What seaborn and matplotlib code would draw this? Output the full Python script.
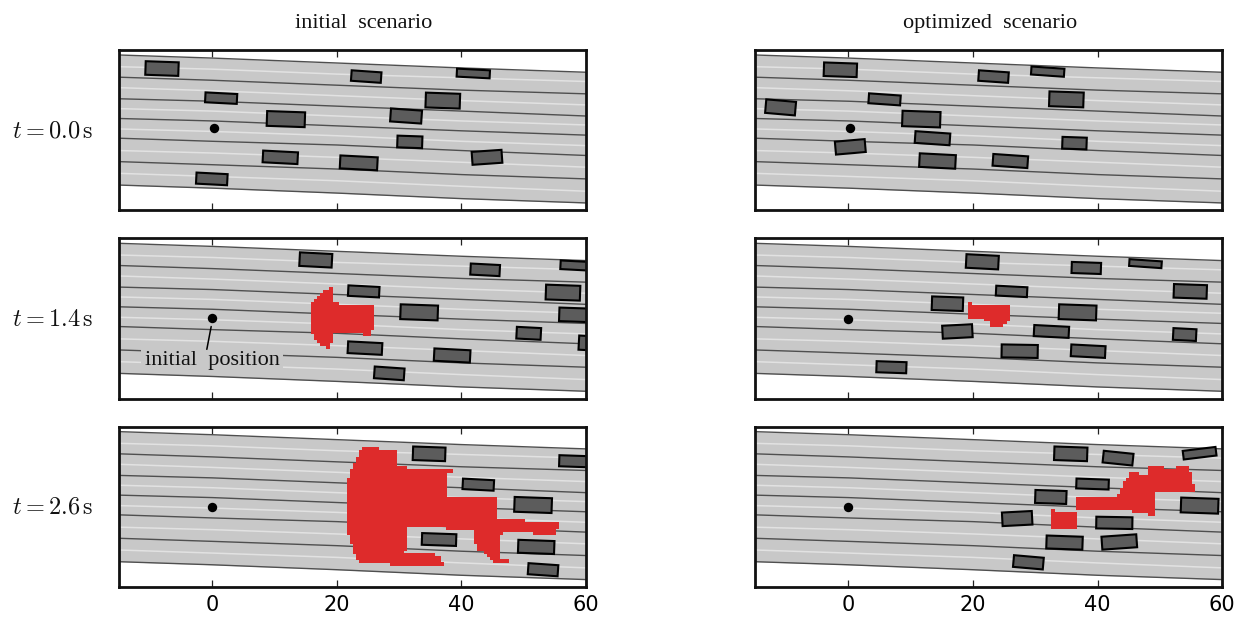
import matplotlib
matplotlib.use("Agg")
import matplotlib.pyplot as plt
import seaborn as sns
from matplotlib.patches import Rectangle

# road geometry (same for all panels)
road_x = [-15, 0, 20, 40, 60]
road_top = [12.2, 11.7, 10.9, 10.1, 9.4]
road_bottom = [-8.9, -9.4, -10.2, -11.1, -11.8]
lane_borders = [
    [8.6, 8.1, 7.3, 6.5, 5.9],
    [5.1, 4.7, 3.9, 3.1, 2.3],
    [1.9, 1.5, 0.7, -0.1, -0.8],
    [-1.3, -1.8, -2.4, -3.3, -4.1],
    [-5.1, -5.6, -6.3, -7.2, -7.9],
]
lane_centers = [
    [10.3, 9.9, 9.1, 8.5, 7.9],
    [6.9, 6.4, 5.6, 4.8, 4.1],
    [3.5, 3.1, 2.3, 1.5, 0.85],
    [0.2, -0.2, -0.9, -1.8, -2.5],
    [-3.3, -3.7, -4.4, -5.2, -6.0],
    [-7.0, -7.5, -8.2, -9.1, -9.9],
]

# cars: x, y, length, width, angle
cars_init_0 = [(-8.1, 10.0, 5.3, 2.2, -2), (24.7, 8.7, 4.8, 1.7, -4), (41.9, 9.2, 5.3, 1.3, -3),
               (1.4, 5.2, 5.1, 1.6, -3), (37.0, 4.8, 5.5, 2.4, -2), (11.8, 1.8, 6.1, 2.4, -2),
               (31.1, 2.3, 5.0, 2.1, -4), (31.7, -1.9, 4.0, 1.9, -2), (10.9, -4.4, 5.6, 1.9, -3),
               (23.5, -5.3, 6.0, 2.1, -3), (44.1, -4.4, 4.8, 2.1, 4), (-0.1, -7.9, 5.0, 1.8, -3)]
cars_init_1 = [(16.6, 9.5, 5.2, 2.2, -3), (43.8, 7.9, 4.7, 1.8, -3), (58.2, 8.6, 4.6, 1.4, -3),
               (24.3, 4.4, 5.0, 1.7, -3), (56.3, 4.2, 5.5, 2.4, -2), (33.2, 1.0, 6.0, 2.4, -2),
               (58.0, 0.6, 4.6, 2.2, -2), (50.8, -2.4, 3.9, 1.9, -3), (60.6, -4.0, 3.5, 2.3, -3),
               (24.5, -4.8, 5.5, 1.9, -3), (38.5, -6.0, 5.8, 2.0, -3), (28.4, -8.9, 4.8, 1.9, -4)]
cars_init_2 = [(34.8, 8.6, 5.2, 2.2, -2), (58.0, 7.4, 4.6, 1.8, -2), (42.7, 3.6, 5.0, 1.7, -3),
               (51.5, 0.3, 6.0, 2.4, -2), (36.4, -5.3, 5.5, 1.9, -2), (52.0, -6.5, 5.8, 2.1, -2),
               (53.1, -10.2, 4.8, 1.8, -4)]
cars_opt_0 = [(-1.3, 9.8, 5.3, 2.2, -2), (23.3, 8.7, 4.8, 1.7, -4), (32.0, 9.5, 5.3, 1.3, -4),
              (5.8, 5.0, 5.1, 1.6, -4), (35.0, 5.0, 5.5, 2.4, -2), (11.7, 1.8, 6.1, 2.5, -2),
              (-10.9, 3.7, 4.8, 2.2, -5), (13.5, -1.3, 5.6, 1.9, -4), (36.3, -2.1, 3.9, 1.9, -2),
              (0.3, -2.7, 4.8, 2.1, 5), (14.3, -5.0, 5.8, 2.2, -3), (26.0, -5.0, 5.6, 1.9, -4)]
cars_opt_1 = [(21.5, 9.2, 5.2, 2.2, -3), (38.2, 8.2, 4.7, 1.8, -2), (47.7, 8.9, 5.2, 1.1, -4),
              (54.9, 4.4, 5.3, 2.2, -2), (26.2, 4.4, 5.0, 1.6, -3), (15.9, 2.4, 5.0, 2.2, -2),
              (36.8, 1.0, 6.0, 2.4, -2), (17.5, -2.1, 4.8, 2.1, 3), (32.6, -2.1, 5.6, 1.8, -3),
              (54.0, -2.6, 3.7, 1.9, -3), (27.5, -5.3, 5.8, 2.1, -1), (38.5, -5.3, 5.5, 1.9, -3),
              (6.9, -7.9, 4.8, 1.8, -2)]
cars_opt_2 = [(35.7, 8.6, 5.3, 2.2, -2), (43.3, 7.9, 4.8, 1.9, -6), (56.4, 8.7, 5.3, 1.4, 7),
              (39.2, 3.7, 5.2, 1.6, -2), (32.5, 1.6, 5.0, 2.1, -2), (56.4, 0.2, 6.0, 2.4, -2),
              (27.1, -1.9, 4.8, 2.2, 3), (42.7, -2.6, 5.8, 1.9, -1), (34.7, -5.8, 5.8, 2.1, -2),
              (43.5, -5.7, 5.6, 2.1, 4), (28.9, -9.0, 4.8, 1.9, -5)]

# reachable set outlines
red_init_1_x = [18.73, 19.37, 19.37, 20.33, 20.33, 25.95, 25.95, 25.47, 25.47, 24.19, 24.19, 19.37, 19.37, 18.89, 18.89, 18.24, 18.24, 17.28, 17.28, 16.8, 16.8, 16.32, 16.32, 15.83, 15.83, 16.32, 16.32, 16.8, 16.8, 17.28, 17.28, 17.76, 17.76, 18.73]
red_init_1_y = [5.17, 5.17, 2.75, 2.75, 2.26, 2.26, -1.94, -1.94, -2.91, -2.91, -2.42, -2.42, -4.04, -4.04, -5.0, -5.0, -4.52, -4.52, -4.04, -4.04, -3.55, -3.55, -2.58, -2.58, 2.75, 2.75, 3.23, 3.23, 3.72, 3.72, 4.2, 4.2, 4.69, 4.69]
red_init_2_x = [24.03, 26.76, 26.76, 29.65, 29.65, 31.26, 31.26, 38.64, 38.64, 37.68, 37.68, 45.71, 45.71, 50.2, 50.2, 55.66, 55.66, 55.18, 55.18, 51.49, 51.49, 46.67, 46.67, 46.19, 46.19, 47.64, 47.64, 45.07, 45.07, 44.58, 44.58, 44.1, 44.1, 43.62, 43.62, 42.5, 42.5, 42.01, 42.01, 37.52, 37.52, 31.26, 31.26, 30.77, 30.77, 35.75, 35.75, 36.72, 36.72, 37.2, 37.2, 28.53, 28.53, 23.55, 23.55, 23.07, 23.07, 22.58, 22.58, 22.1, 22.1, 21.62, 21.62, 22.1, 22.1, 22.58, 22.58, 23.07, 23.07, 23.55, 23.55, 24.03]
red_init_2_y = [9.7, 9.7, 9.21, 9.21, 6.63, 6.63, 6.14, 6.14, 5.5, 5.5, 1.62, 1.62, -1.94, -1.94, -2.42, -2.42, -3.55, -3.55, -4.52, -4.52, -4.04, -4.04, -4.52, -4.52, -8.4, -8.4, -9.04, -9.04, -8.56, -8.56, -8.07, -8.07, -7.59, -7.59, -7.11, -7.11, -5.97, -5.97, -3.71, -3.71, -3.23, -3.23, -7.11, -7.11, -7.43, -7.43, -7.91, -7.91, -8.88, -8.88, -9.53, -9.53, -9.04, -9.04, -8.56, -8.56, -7.59, -7.59, -5.97, -5.97, -4.52, -4.52, 4.69, 4.69, 6.14, 6.14, 7.11, 7.11, 8.08, 8.08, 9.21, 9.21]
red_opt_1_x = [19.21, 19.85, 19.85, 25.95, 25.95, 25.47, 25.47, 24.83, 24.83, 22.74, 22.74, 21.78, 21.78, 19.21]
red_opt_1_y = [2.75, 2.75, 2.26, 2.26, -0.48, -0.48, -0.97, -0.97, -1.45, -1.45, -0.48, -0.48, 0.0, 0.0]
red_opt_2a_x = [36.55, 43.14, 43.14, 43.62, 43.62, 44.1, 44.1, 44.58, 44.58, 45.07, 45.07, 46.67, 46.67, 48.12, 48.12, 50.69, 50.69, 52.61, 52.61, 54.7, 54.7, 55.18, 55.18, 55.67, 55.67, 49.24, 49.24, 48.12, 48.12, 45.55, 45.55, 36.55]
red_opt_2a_y = [1.62, 1.62, 2.1, 2.1, 3.07, 3.07, 4.2, 4.2, 4.69, 4.69, 5.66, 5.66, 5.17, 5.17, 6.63, 6.63, 6.14, 6.14, 6.63, 6.63, 5.66, 5.66, 3.72, 3.72, 2.43, 2.43, -1.45, -1.45, -0.97, -0.97, -0.48, -0.48]
red_opt_2b_x = [32.54, 33.18, 33.18, 36.72, 36.72, 32.54]
red_opt_2b_y = [-0.32, -0.32, -0.8, -0.8, -3.55, -3.55]

# ego position per panel
dot_x = [[0.2, 0.0, 0.0], [0.2, 0.0, 0.0]]
dot_y = [[0.3, 0.15, 0.0], [0.3, 0.0, 0.0]]

# leader line of the label
leader_x = [-0.2, -0.9]
leader_y = [-1.3, -5.0]

columns = ["initial  scenario", "optimized  scenario"]
times = ["0.0", "1.4", "2.6"]
x_ticks = [0, 20, 40, 60]
y_ticks = [-8, 0, 8]

ROAD = "#c8c8c8"
CAR = "#5c5c5c"
RED = "#de2b2b"


def draw_panel(ax, cars, reds, px, py):
    ax.fill_between(road_x, road_bottom, road_top, color=ROAD, lw=0, zorder=1)
    for line in lane_centers:
        sns.lineplot(x=road_x, y=line, color="#e2e2e2", lw=1.1, ax=ax, legend=False, zorder=1.5)
    for line in lane_borders + [road_top, road_bottom]:
        sns.lineplot(x=road_x, y=line, color="#4f4f4f", lw=1.0, ax=ax, legend=False, zorder=2)
    for cx, cy, length, width, angle in cars:
        ax.add_patch(Rectangle((cx - length / 2, cy - width / 2), length, width, angle=angle,
                               rotation_point="center", fc=CAR, ec="black", lw=1.5, zorder=3))
    for rx, ry in reds:
        ax.fill(rx, ry, color=RED, lw=0, zorder=4)
    sns.scatterplot(x=[px], y=[py], color="black", s=46, linewidth=0, ax=ax, legend=False, zorder=5)


sns.set_theme(style="ticks")
plt.rcParams["mathtext.fontset"] = "cm"

fig, axes = plt.subplots(3, 2, figsize=(12.36, 6.18), dpi=100, sharex=True, sharey=True)
fig.subplots_adjust(left=0.0963, right=0.9887, top=0.919, bottom=0.0502, hspace=0.175, wspace=0.362)

all_cars = [[cars_init_0, cars_init_1, cars_init_2], [cars_opt_0, cars_opt_1, cars_opt_2]]
all_reds = [
    [[], [(red_init_1_x, red_init_1_y)], [(red_init_2_x, red_init_2_y)]],
    [[], [(red_opt_1_x, red_opt_1_y)], [(red_opt_2a_x, red_opt_2a_y), (red_opt_2b_x, red_opt_2b_y)]],
]

for c in range(2):
    for r in range(3):
        ax = axes[r, c]
        draw_panel(ax, all_cars[c][r], all_reds[c][r], dot_x[c][r], dot_y[c][r])
        ax.set_xlim(-15, 60)
        ax.set_ylim(-13, 13)
        ax.set_xticks(x_ticks)
        ax.set_yticks(y_ticks)
        ax.set_yticklabels([])
        ax.tick_params(direction="in", length=5, width=0.9, color="#222222", top=True, right=True,
                       labelsize=15, labelcolor="black", pad=5.5, zorder=6)
        for s in ax.spines.values():
            s.set_linewidth(2)
            s.set_color("#111111")
            s.set_zorder(7)

# the titles do not sit quite on the axes centres in the original
axes[0, 0].set_title(columns[0], x=0.5246, family="Liberation Serif", fontsize=16, pad=16, color="#111111")
axes[0, 1].set_title(columns[1], x=0.504, family="Liberation Serif", fontsize=16, pad=16, color="#111111")

for r in range(3):
    axes[r, 0].text(-0.055, 0.5, r"$t = %s\,\mathrm{s}$" % times[r], transform=axes[r, 0].transAxes,
                    ha="right", va="center", fontsize=17.5, color="#111111")

axes[1, 0].text(0, -6.8, "initial  position", ha="center", va="center",
                family="Liberation Serif", fontsize=16, color="#111111", zorder=6,
                bbox=dict(fc=ROAD, ec="none", pad=2.5))
sns.lineplot(x=leader_x, y=leader_y, color="black", lw=1.1, ax=axes[1, 0], legend=False, zorder=6,
             sort=False)

fig.savefig("out.png", dpi=100)
